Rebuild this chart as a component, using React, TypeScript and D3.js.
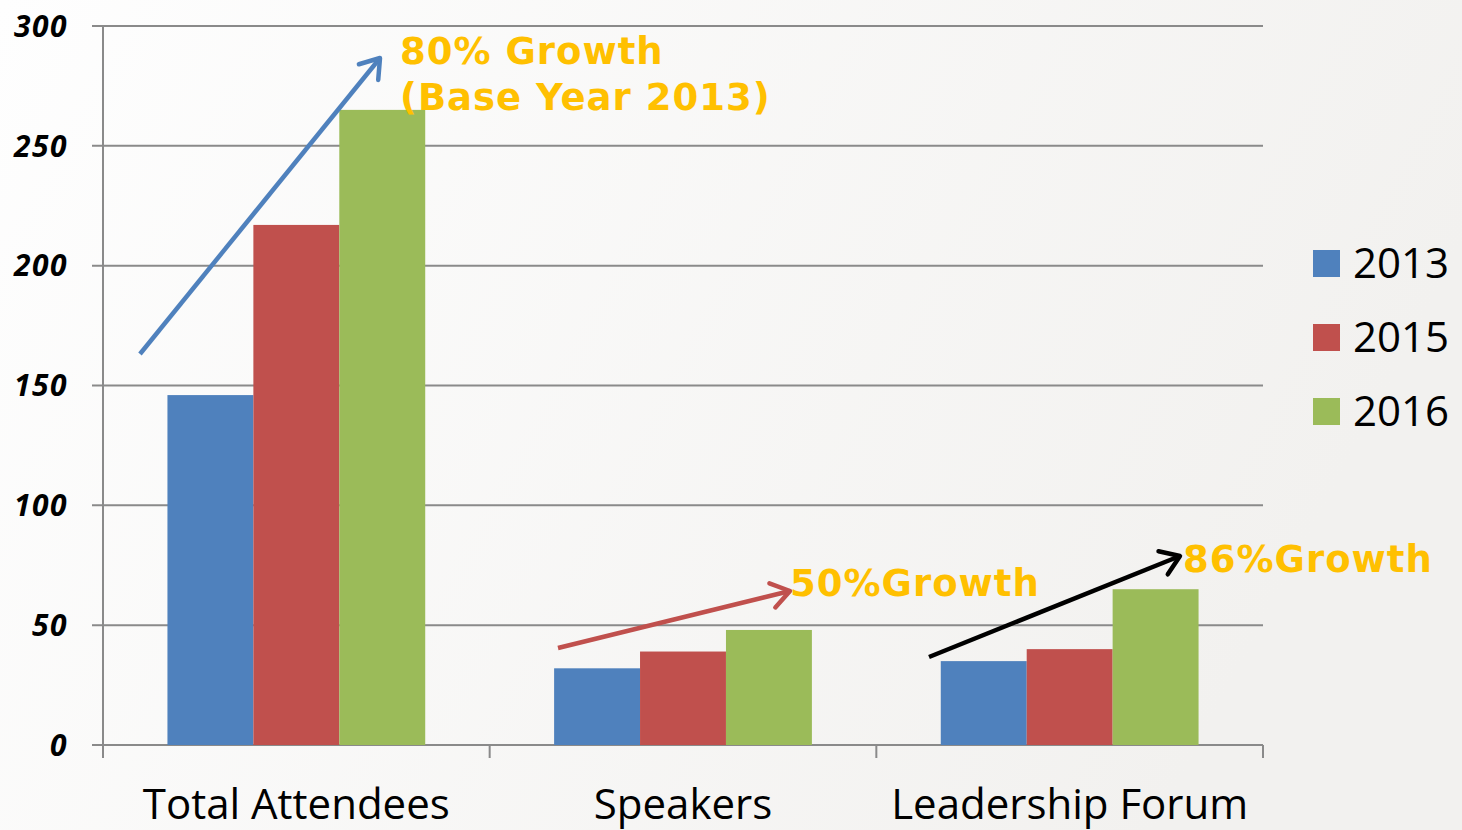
// Grouped bar chart: attendees / speakers / leadership forum by year, with growth arrows.
import { useEffect, useRef } from "react";
import * as d3 from "d3";

const categories = ["Total Attendees", "Speakers", "Leadership Forum"];
const years = ["2013", "2015", "2016"];
const values2013 = [146, 32, 35];
const values2015 = [217, 39, 40];
const values2016 = [265, 48, 65];
const yTicks = [0, 50, 100, 150, 200, 250, 300];
const colors = ["#4F81BD", "#C0504D", "#9BBB59"];

const W = 1462;
const H = 830;

export default function App() {
  const svgRef = useRef<SVGSVGElement | null>(null);

  useEffect(() => {
    const svg = d3.select(svgRef.current);
    svg.selectAll("*").remove();

    const left = 103, right = 1263, top = 26, bottom = 745;
    const series = [values2013, values2015, values2016];

    // background
    const defs = svg.append("defs");
    const grad = defs.append("linearGradient").attr("id", "bg").attr("x1", "0").attr("y1", "0").attr("x2", "1").attr("y2", "0.3");
    grad.append("stop").attr("offset", "0%").attr("stop-color", "#fefefe");
    grad.append("stop").attr("offset", "100%").attr("stop-color", "#f2f1ef");
    svg.append("rect").attr("width", W).attr("height", H).attr("fill", "url(#bg)");

    const x0 = d3.scaleBand().domain(categories).range([left, right]).padding(0);
    const x1 = d3.scaleBand().domain(years).range([0, x0.bandwidth()]).paddingInner(0).paddingOuter(0.75);
    const y = d3.scaleLinear().domain([0, 300]).range([bottom, top]);

    // grid + y labels
    const grid = svg.append("g");
    grid.selectAll("line").data(yTicks).enter().append("line")
      .attr("x1", left - 11).attr("x2", right)
      .attr("y1", d => y(d)).attr("y2", d => y(d))
      .attr("stroke", "#8a8a8a").attr("stroke-width", 2);
    grid.selectAll("text").data(yTicks).enter().append("text")
      .attr("x", 68).attr("y", d => y(d)).attr("dy", "0.36em")
      .attr("text-anchor", "end")
      .attr("font-family", "'Open Sans', sans-serif")
      .attr("font-weight", 700).attr("font-style", "italic")
      .attr("font-size", 30).attr("letter-spacing", 1.5).attr("fill", "#000")
      .text(d => d);

    // y axis line and category ticks
    svg.append("line").attr("x1", left).attr("x2", left).attr("y1", top).attr("y2", bottom + 13)
      .attr("stroke", "#8a8a8a").attr("stroke-width", 2);
    const catTicks = [...categories.map(c => x0(c) as number), right];
    svg.append("g").selectAll("line").data(catTicks).enter().append("line")
      .attr("x1", d => d).attr("x2", d => d).attr("y1", bottom).attr("y2", bottom + 13)
      .attr("stroke", "#8a8a8a").attr("stroke-width", 2);

    // bars
    years.forEach((yr, i) => {
      svg.append("g").selectAll("rect").data(categories).enter().append("rect")
        .attr("x", c => (x0(c) as number) + (x1(yr) as number))
        .attr("width", x1.bandwidth())
        .attr("y", (c, j) => y(series[i][j]))
        .attr("height", (c, j) => bottom - y(series[i][j]))
        .attr("fill", colors[i]);
    });

    // category labels
    svg.append("g").selectAll("text").data(categories).enter().append("text")
      .attr("x", c => (x0(c) as number) + x0.bandwidth() / 2)
      .attr("y", 819)
      .attr("text-anchor", "middle")
      .attr("font-family", "'Open Sans', sans-serif")
      .attr("font-size", 42).attr("fill", "#000")
      .text(c => c);

    // legend
    const lg = svg.append("g").selectAll("g").data(years).enter().append("g")
      .attr("transform", (d, i) => `translate(1313,${250 + i * 74})`);
    lg.append("rect").attr("width", 27).attr("height", 27).attr("fill", (d, i) => colors[i]);
    lg.append("text").attr("x", 40).attr("y", 13).attr("dy", "0.36em")
      .attr("font-family", "'Open Sans', sans-serif").attr("font-size", 42).attr("fill", "#000")
      .text(d => d);

    // growth arrows
    const arrows = [
      { from: [140, 354], to: [380, 58], color: "#4F81BD" },
      { from: [558, 648], to: [790, 591], color: "#C0504D" },
      { from: [929, 657], to: [1180, 556], color: "#000000" },
    ];
    arrows.forEach(a => {
      const [xa, ya] = a.from, [xb, yb] = a.to;
      const ang = Math.atan2(yb - ya, xb - xa);
      const len = 22, spread = 0.6;
      const p1 = [xb - len * Math.cos(ang - spread), yb - len * Math.sin(ang - spread)];
      const p2 = [xb - len * Math.cos(ang + spread), yb - len * Math.sin(ang + spread)];
      svg.append("line").attr("x1", xa).attr("y1", ya).attr("x2", xb).attr("y2", yb)
        .attr("stroke", a.color).attr("stroke-width", 4.5);
      svg.append("path").attr("d", `M${p1[0]},${p1[1]} L${xb},${yb} L${p2[0]},${p2[1]}`)
        .attr("fill", "none").attr("stroke", a.color).attr("stroke-width", 4.5)
        .attr("stroke-linecap", "round").attr("stroke-linejoin", "round");
    });

    // growth labels
    const notes = [
      { text: "80% Growth", x: 400, y: 64 },
      { text: "(Base Year 2013)", x: 400, y: 110 },
      { text: "50%Growth", x: 790, y: 596 },
      { text: "86%Growth", x: 1183, y: 572 },
    ];
    svg.append("g").selectAll("text").data(notes).enter().append("text")
      .attr("x", d => d.x).attr("y", d => d.y)
      .attr("font-family", "'DejaVu Sans', sans-serif").attr("font-weight", 700)
      .attr("font-size", 37).attr("letter-spacing", 1).attr("fill", "#FFC000")
      .text(d => d.text);
  }, []);

  return (
    <svg ref={svgRef} width={W} height={H}
      style={{ position: "fixed", left: 0, top: 0, display: "block" }} />
  );
}
